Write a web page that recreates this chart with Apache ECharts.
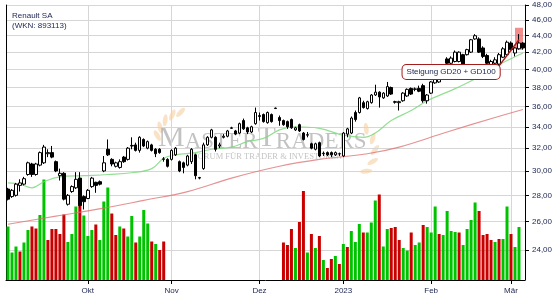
<!DOCTYPE html>
<html><head><meta charset="utf-8">
<script src="https://cdn.jsdelivr.net/npm/echarts@6/dist/echarts.min.js"></script>
<style>html,body{margin:0;padding:0;background:#fff}#c{width:555px;height:300px}</style>
</head><body><div id="c"></div>
<script>
// ---- data ----
const startDate = '2022-09-05';
const endDate = '2023-03-06';
const holidays = ['2022-12-26'];
const monthLabels = {'2022-10':'Okt','2022-11':'Nov','2022-12':'Dez','2023-01':'2023','2023-02':'Feb','2023-03':'Mär'};
const priceTicks = [24,26,28,30,32,34,36,38,40,42,44,46,48];
// [open, close, low, high]
const candles = [
[28.5,27.7,27.6,28.6],[27.9,28.4,27.8,28.5],[28.0,28.9,27.9,29.0],[28.8,29.0,28.3,29.3],[28.9,29.35,28.8,29.5],
[29.7,30.7,29.6,30.8],[30.6,29.7,29.5,30.7],[29.7,30.6,29.6,30.7],[30.5,31.6,30.4,31.7],[30.7,32.1,30.6,32.3],
[31.5,31.6,31.2,31.9],[31.6,31.2,31.1,32.2],[30.8,30.0,29.9,30.9],[29.6,29.8,29.2,30.2],[29.8,27.7,27.6,29.9],
[27.3,28.0,27.2,28.1],[28.3,28.7,28.2,28.8],[28.6,29.3,28.5,29.9],[29.4,27.2,27.0,29.9],[27.9,27.5,26.9,28.0],
[27.75,28.4,27.7,28.5],[28.7,29.4,28.6,29.5],[29.05,28.8,28.2,29.1],[29.1,28.9,28.8,29.2],[30.0,30.7,29.9,31.3],
[31.9,31.4,31.3,32.8],[31.0,30.6,30.4,31.1],[30.4,30.7,30.3,30.8],[30.3,30.8,30.2,31.0],[31.2,30.8,30.7,31.3],
[31.0,32.0,30.9,32.1],[32.2,32.25,31.9,33.0],[32.3,31.8,31.7,32.5],[31.8,33.0,31.6,33.1],[32.8,32.2,32.1,32.9],
[32.0,32.6,31.9,32.7],[32.3,31.8,31.7,32.4],[31.9,31.5,31.2,32.0],[31.9,31.6,31.5,32.0],[31.0,31.05,30.8,31.2],
[31.0,30.4,30.3,31.1],[31.0,31.8,30.9,31.9],[31.4,32.0,31.3,32.1],[30.8,30.0,29.9,30.9],[30.7,30.3,29.8,30.8],
[30.5,31.3,30.4,31.4],[30.8,31.9,30.6,32.0],[31.4,29.6,29.3,31.5],[29.4,29.45,29.3,29.5],[30.2,32.3,30.1,32.5],
[32.3,33.0,32.2,33.1],[33.0,33.7,32.9,33.8],[33.0,31.9,31.7,33.1],[32.2,32.3,32.0,32.5],[33.0,33.1,32.9,33.3],
[33.1,33.6,33.0,33.7],[33.85,33.9,33.8,34.0],[33.6,33.3,33.2,33.7],[33.4,34.3,33.3,34.4],[34.6,33.8,33.7,34.8],
[33.9,33.5,33.3,34.0],[33.5,34.0,33.4,34.1],[34.3,35.4,34.2,35.9],[35.0,35.1,34.6,35.4],[35.2,34.5,34.4,35.3],
[34.4,35.4,34.3,35.5],[35.2,34.5,34.4,35.3],[35.8,35.85,35.8,35.9],[34.9,34.6,34.1,35.1],[34.6,34.2,34.1,34.7],
[34.5,34.0,33.8,34.6],[34.7,33.9,33.8,34.8],[33.7,33.9,33.6,34.0],[34.2,33.6,33.5,34.3],[33.4,32.8,32.7,33.5],
[33.2,33.25,33.0,33.5],[32.4,32.0,31.9,32.5],[31.9,32.4,31.8,32.5],[32.5,31.3,31.2,32.6],[31.5,31.55,31.3,31.7],
[31.6,31.4,31.3,31.7],[31.6,31.4,31.2,31.7],[31.4,31.6,31.3,31.7],[31.5,31.5,31.3,31.6],[31.3,33.4,31.2,33.5],
[33.3,33.8,33.0,33.9],[33.4,34.85,33.3,35.0],[35.4,34.7,34.5,35.6],[35.4,36.9,35.3,37.0],[36.4,35.9,35.8,36.6],
[35.8,36.5,35.7,36.6],[36.4,37.2,36.3,37.3],[37.2,37.5,37.1,38.3],[37.5,37.0,35.9,37.6],[36.9,37.4,36.8,37.5],
[37.1,38.1,37.0,38.6],[38.0,37.3,37.2,38.1],[36.5,36.45,36.3,36.6],[36.4,36.5,35.6,36.6],[36.6,37.4,36.5,37.5],
[37.1,37.8,37.0,37.9],[37.9,37.3,37.2,38.0],[37.8,37.85,37.6,38.0],[37.9,37.6,37.5,38.2],[38.2,36.6,36.4,38.4],
[36.6,37.2,36.3,37.3],[37.4,38.6,37.3,38.7],[38.5,39.3,38.4,39.5],[38.6,39.5,38.5,39.6],[39.3,40.0,39.2,40.2],
[41.2,40.7,40.5,41.4],[40.7,41.3,40.5,41.5],[40.9,42.0,40.8,42.2],[40.9,42.0,40.8,42.1],[41.7,40.6,40.5,41.8],
[41.7,42.3,41.6,42.4],[42.0,43.5,41.9,43.6],[43.6,44.0,43.5,44.2],[43.6,42.0,41.9,43.8],[42.5,41.5,41.3,42.7],
[41.6,40.7,40.4,41.8],[40.5,40.9,40.3,41.1],[40.7,41.1,40.2,41.4],[40.6,41.7,40.5,41.9],[41.4,42.4,41.3,42.6],
[41.7,43.2,41.6,43.4],[43.1,42.3,42.2,43.3],[41.9,42.5,41.5,42.6],[42.4,43.1,42.3,44.2],[43.1,42.5,42.3,43.2]
];
// volume in million shares (null = no value)
const volume = [
1.07,0.55,0.67,0.57,0.75,1.00,1.07,1.03,1.30,2.01,
0.80,1.02,1.02,0.92,1.31,0.76,0.92,1.47,1.50,1.29,
0.88,1.00,1.11,0.80,1.57,1.85,1.33,0.90,1.07,1.03,
0.87,1.28,0.75,0.87,1.40,1.13,0.77,0.72,0.60,0.77,
null,null,null,null,null,null,null,null,null,null,
null,null,null,null,null,null,null,null,null,null,
null,null,null,null,null,null,null,null,null,0.75,
0.70,1.02,0.64,1.16,1.78,0.55,0.92,0.64,0.88,0.40,
0.24,0.42,0.48,0.32,0.72,0.66,0.98,0.76,1.12,0.95,
0.95,1.15,1.59,1.71,0.67,1.02,1.04,1.06,0.80,0.64,
0.59,0.95,0.70,0.75,1.10,1.06,0.95,1.47,0.92,0.90,
1.38,0.98,0.96,0.95,0.70,1.02,1.20,1.55,1.38,0.90,
0.92,0.80,0.76,0.82,0.82,1.47,0.92,0.66,1.06,null
];
// 1 = green (up volume), 0 = red
const volUp = [
1,1,1,0,1,1,0,0,1,1, 0,0,0,0,0,1,1,1,0,1, 1,1,0,1,1,1,0,0,1,0, 1,1,0,1,1,1,0,1,0,0,
0,0,0,0,0,0,0,0,0,0, 0,0,0,0,0,0,0,0,0,0, 0,0,0,0,0,0,0,0,0,0,
0,0,1,0,0,1,0,1,0,1, 0,0,1,0,1,0,1,1,1,0, 1,1,1,0,1,1,0,0,0,1,
1,0,1,1,0,1,1,1,0,1, 1,1,1,0,1,1,1,1,0,0, 0,0,1,0,1,1,0,1,1,0
];
// moving averages read at sample days: [dayIndex, value]
const gd20 = [[0,29.0],[3,28.9],[6,28.6],[9,29.1],[13,29.5],[19,29.6],[25,29.7],[31,29.85],[36,30.2],[39,31.1],
[42,31.4],[47,31.6],[51,31.9],[56,32.1],[60,32.6],[64,32.9],[68,33.7],[72,34.0],[78,33.85],[84,33.2],[89,33.0],
[92,33.4],[96,34.6],[101,35.6],[105,36.6],[110,37.5],[116,38.7],[122,40.3],[129,41.9]];
const gd100 = [[0,25.8],[12,26.4],[24,27.0],[34,27.6],[45,28.3],[56,29.4],[68,30.4],[78,31.0],[90,31.5],
[98,32.1],[110,33.5],[122,34.9],[129,35.7]];
const titleText = ['Renault SA','(WKN: 893113)'];
const noteText = 'Steigung GD20 + GD100';

// ---- build ----
const dates = [];
for (let d = new Date(startDate+'T00:00:00Z'); d <= new Date(endDate+'T00:00:00Z'); d.setUTCDate(d.getUTCDate()+1)) {
  const wd = d.getUTCDay(); const s = d.toISOString().slice(0,10);
  if (wd > 0 && wd < 6 && holidays.indexOf(s) < 0) dates.push(s);
}
const isStart = dates.map((s,i)=> i>0 && s.slice(0,7)!==dates[i-1].slice(0,7));
const monthIv = (i)=> !!isStart[i];
const txt = '#1b2450';
const font = 'Liberation Sans';
const wm = 'rgba(110,110,110,0.42)';
const leaf = 'rgba(245,190,130,0.45)';

// decorative laurel leaves of the watermark
function laurel(cx, cy, r, a0, a1, n, flip) {
  const out = [];
  for (let k = 0; k < n; k++) {
    const a = a0 + (a1 - a0) * k / (n - 1);
    out.push({type:'ellipse', silent:true, z:-1,
      shape:{cx: cx + r*Math.cos(a), cy: cy + r*Math.sin(a), rx:6, ry:2.4},
      rotation: -(a + (flip ? -0.9 : 0.9)), originX: cx + r*Math.cos(a), originY: cy + r*Math.sin(a),
      style:{fill:leaf}});
  }
  return out;
}

const chart = echarts.init(document.getElementById('c'), null, {renderer:'canvas'});
chart.setOption({
  animation:false,
  backgroundColor:'#fff',
  title:{text:titleText.join('\n'), left:7, top:6, textStyle:{fontSize:8, fontWeight:'normal', color:txt, lineHeight:10, fontFamily:font}},
  grid:{left:6, right:30, top:5, bottom:20, containLabel:false},
  graphic:[].concat(
    laurel(185, 140, 28, Math.PI*1.05, Math.PI*1.45, 5, false),
    laurel(345, 150, 30, Math.PI*-0.25, Math.PI*0.25, 5, true),
    [
    {type:'text', left:158, top:123, z:-1, silent:true, style:{text:'{a|M}{b|ASTER}{a|T}{b|RADERS}', rich:{a:{fontSize:30, fontFamily:'Liberation Serif', fill:wm}, b:{fontSize:23, fontFamily:'Liberation Serif', fill:wm, verticalAlign:'bottom'}}}},
    {type:'text', left:193, top:152, z:-1, silent:true, style:{text:'FORUM FÜR TRADER & INVESTOREN', fontSize:8.5, fontFamily:'Liberation Serif', fill:wm}}
  ]),
  xAxis:{type:'category', data:dates, boundaryGap:true,
    axisLine:{lineStyle:{color:'#000', width:1}},
    axisTick:{show:true, alignWithLabel:true, interval:monthIv, length:4, lineStyle:{color:'#000'}},
    axisLabel:{interval:monthIv, formatter:(v)=>monthLabels[v.slice(0,7)]||'', fontSize:8, color:txt, margin:7, fontFamily:font},
    splitLine:{show:true, interval:monthIv, alignWithLabel:true, lineStyle:{color:'#d6d6d6', width:1}}
  },
  yAxis:[
    {type:'log', position:'right', min:22.03, max:48,
      axisLine:{show:true, lineStyle:{color:'#000', width:1}},
      axisTick:{show:true, customValues:priceTicks, length:4, lineStyle:{color:'#000'}},
      axisLabel:{customValues:priceTicks, formatter:(v)=>v.toFixed(2).replace('.',','), fontSize:8, color:txt, margin:7, fontFamily:font},
      splitLine:{show:true, lineStyle:{color:'#d6d6d6', width:1}}
    },
    {type:'value', position:'left', min:0, max:5.5,
      axisLine:{show:true, lineStyle:{color:'#000', width:1}},
      axisTick:{show:false}, axisLabel:{show:false}, splitLine:{show:false}
    }
  ],
  series:[
    {type:'bar', name:'Volumen', xAxisIndex:0, yAxisIndex:1, barWidth:3, z:1, silent:true,
      data:volume.map((v,i)=> v==null ? null : {value:v, itemStyle:{color: volUp[i] ? '#00c300' : '#c80000'}})},
    {type:'line', name:'GD100', data:gd100, smooth:0.4, symbol:'none', z:2, silent:true,
      lineStyle:{color:'rgba(220,110,110,0.75)', width:1.2}},
    {type:'line', name:'GD20', data:gd20, smooth:0.4, symbol:'none', z:2, silent:true,
      lineStyle:{color:'rgba(120,215,120,0.8)', width:1.2}},
    {type:'candlestick', name:'Renault', data:candles, barWidth:3, z:3,
      itemStyle:{color:'#fff', color0:'#000', borderColor:'#000', borderColor0:'#000', borderColorDoji:'#000', borderWidth:1},
      markArea:{silent:true, itemStyle:{color:'rgba(235,80,80,0.65)'}, data:[[{coord:[127,45.0]},{coord:[129,42.3]}]]},
      markLine:{silent:true, symbol:['none','none'], label:{show:false}, lineStyle:{color:'#b01818', width:1.5, type:'solid'},
        data:[[{coord:[123,40.4]},{coord:[128,43.5]}]]},
      markPoint:{silent:true, symbol:'circle', symbolSize:1, itemStyle:{color:'rgba(0,0,0,0)'},
        label:{show:true, position:'inside', formatter:noteText, backgroundColor:'#fff', borderColor:'#a51c1c', borderWidth:1, borderRadius:4,
          padding:[3,4,3,4], fontSize:8, color:txt, fontFamily:font},
        data:[{coord:[111,39.7]}]}
    }
  ]
});
</script></body></html>
